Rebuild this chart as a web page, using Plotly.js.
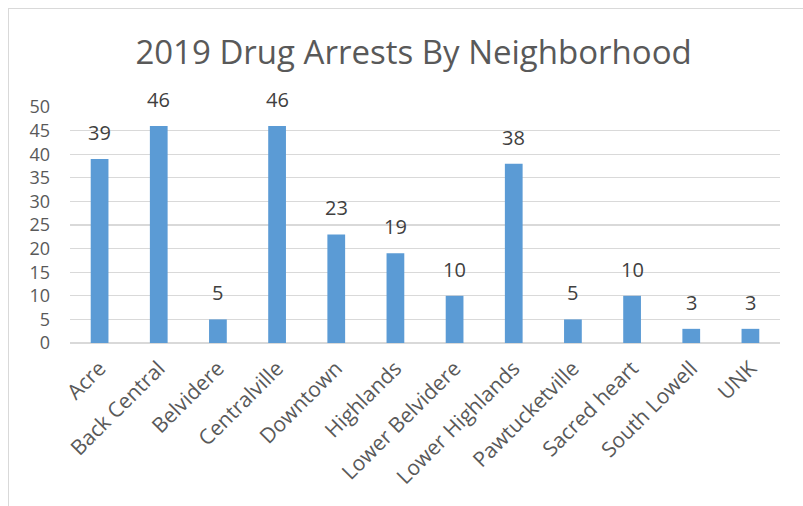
<!DOCTYPE html>
<html><head><meta charset="utf-8">
<script src="https://cdn.plot.ly/plotly-3.0.1.min.js"></script>
<style>
html,body{margin:0;padding:0;background:#fff;overflow:hidden;}
#frame{position:absolute;left:8px;top:8px;width:820px;height:530px;border:1px solid #d9d9d9;}
#chart{position:absolute;left:0;top:0;width:803px;height:506px;}
</style></head>
<body>
<div id="frame"></div>
<div id="chart"></div>
<script>
const categories = ["Acre","Back Central","Belvidere","Centralville","Downtown","Highlands","Lower Belvidere","Lower Highlands","Pawtucketville","Sacred heart","South Lowell","UNK"];
const arrests = [39,46,5,46,23,19,10,38,5,10,3,3];
const yTicks = [0,5,10,15,20,25,30,35,40,45,50];

const fontFam = "Open Sans, sans-serif";
const textColor = "#595959";

const annotations = categories.map((c,i)=>({
  x:c, y:arrests[i], xref:'x', yref:'y', text:String(arrests[i]),
  showarrow:false, yanchor:'bottom', yshift:11,
  font:{family:fontFam,size:20,color:"#404040"}
}));

Plotly.newPlot('chart',[{
  type:'bar', x:categories, y:arrests,
  marker:{color:'#5B9BD5'}, hoverinfo:'none'
}],{
  width:803,height:506,
  paper_bgcolor:'rgba(0,0,0,0)',plot_bgcolor:'rgba(0,0,0,0)',
  margin:{l:70,r:23,t:107,b:163},
  bargap:0.70,
  title:{text:"2019 Drug Arrests By Neighborhood",x:0.515,xanchor:'center',y:0.897,yanchor:'middle',
    font:{family:fontFam,size:33,color:textColor}},
  xaxis:{type:'category',tickangle:-45,showgrid:false,showline:false,zeroline:false,
    ticks:'',ticklabelstandoff:8,tickfont:{family:fontFam,size:21,color:textColor}},
  yaxis:{range:[0,50],tickvals:yTicks,showgrid:true,gridcolor:'#d9d9d9',gridwidth:1.3,
    zeroline:true,zerolinecolor:'#d9d9d9',zerolinewidth:1.3,showline:false,ticks:'',
    ticklabelstandoff:19,tickfont:{family:fontFam,size:18,color:textColor}},
  annotations:annotations,
  showlegend:false
},{staticPlot:true});
</script>
</body></html>
